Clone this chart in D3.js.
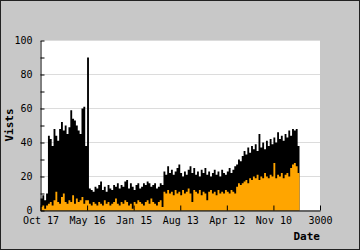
<!DOCTYPE html>
<html>
<head>
<meta charset="utf-8">
<script src="https://d3js.org/d3.v7.min.js"></script>
<style>
  body { margin: 0; background: #c8c8c8; }
  svg { display: block; }
  text { font-family: "DejaVu Sans Mono", monospace; }
</style>
</head>
<body>
<div class="chart"></div>
<script>
// samples every 20 days from day 0
var startDay = 0
var stepDays = 20

var visits = [
  7, 9, 6, 10,
  44, 42, 38, 48, 44, 41, 48, 52, 47, 50, 45, 49, 59, 54, 53, 50, 47, 45, 60, 61, 38,
  90,
  13, 12, 11, 14, 13, 15, 17, 12, 14, 11, 15, 13, 12, 15, 14, 16, 13, 15, 14, 17,
  18, 13, 16, 14, 12, 15, 16, 13, 14, 16, 15, 17, 16, 14, 15, 16, 13, 14, 16, 15,
  23, 21, 26, 22, 24, 21, 23, 25, 27, 22, 20, 23, 21, 24, 26, 22, 25, 21, 23, 20,
  24, 22, 25, 21, 23, 20, 22, 24, 21, 23, 20, 24, 22, 21, 23, 25, 22, 24, 26,
  27, 30, 29, 32, 35, 33, 37, 34, 38, 36, 39, 35, 45, 37, 40, 36, 41, 38, 42, 39,
  43, 40, 46, 42, 44, 41, 45, 43, 47, 44, 48, 47, 48, 38
]

var visitsOrange = [
  2, 3, 1, 3,
  4, 5, 3, 6, 11, 5, 4, 8, 10, 5, 4, 6, 5, 9, 4, 7, 5, 6, 8, 4, 6,
  6,
  4, 3, 5, 4, 3, 5, 4, 3, 6, 4, 5, 3, 4, 5, 7, 4, 3, 5, 4, 6,
  5, 3, 4, 1, 5, 4, 6, 5, 4, 3, 5, 6, 4, 7, 5, 4, 3, 5, 6, 2,
  11, 10, 12, 10, 11, 9, 12, 10, 11, 9, 12, 10, 11, 13, 10, 5, 12, 11, 10, 12,
  9, 11, 10, 6, 11, 12, 10, 11, 9, 12, 10, 11, 10, 12, 11, 10, 12, 11, 10,
  14, 16, 15, 16, 17, 18, 16, 19, 18, 20, 19, 21, 18, 20, 19, 22, 20, 19, 21, 20,
  28, 19, 21, 20, 22, 19, 21, 22, 20, 25, 27, 28, 26, 22
]

var xTicks = [0, 500, 1000, 1500, 2000, 2500, 3000]
var xTickLabels = ["Oct 17", "May 16", "Jan 15", "Aug 13", "Apr 12", "Nov 10", "3000"]
var yTicks = [0, 10, 20, 30, 40, 50, 60, 70, 80, 90, 100]
var yGrid = [20, 40, 60, 80, 100]

var width = 360
var height = 250
var plotLeft = 40, plotRight = 320, plotTop = 40, plotBottom = 210

var svg = d3.select(".chart").append("svg")
  .attr("width", width)
  .attr("height", height)

// frame
svg.append("rect")
  .attr("x", 0.5).attr("y", 0.5)
  .attr("width", width - 1).attr("height", height - 1)
  .attr("fill", "#c8c8c8")
  .attr("stroke", "#222")

svg.append("rect")
  .attr("x", plotLeft).attr("y", plotTop)
  .attr("width", plotRight - plotLeft).attr("height", plotBottom - plotTop)
  .attr("fill", "white")

var x = d3.scaleLinear().domain([0, 3000]).range([plotLeft + 0.5, plotRight])
var y = d3.scaleLinear().domain([0, 100]).range([plotBottom + 0.5, plotTop + 0.5])

function toPoints(arr) {
  var pts = arr.map(function(v, i) { return { d: startDay + i * stepDays, v: v } })
  // close the last step
  pts.push({ d: startDay + arr.length * stepDays, v: arr[arr.length - 1] })
  return pts
}

// gridlines
svg.append("g")
  .selectAll("line")
  .data(yGrid)
  .enter().append("line")
  .attr("x1", plotLeft).attr("x2", plotRight)
  .attr("y1", function(d) { return y(d) })
  .attr("y2", function(d) { return y(d) })
  .attr("stroke", "#dcdcdc")

var area = d3.area()
  .curve(d3.curveStepAfter)
  .x(function(d) { return x(d.d) })
  .y0(y(0))
  .y1(function(d) { return y(d.v) })

svg.append("path")
  .datum(toPoints(visits))
  .attr("fill", "black")
  .attr("d", area)

svg.append("path")
  .datum(toPoints(visitsOrange))
  .attr("fill", "#ffa500")
  .attr("d", area)

// axes, ticks point into the plot
var xAxis = d3.axisBottom(x)
  .tickValues(xTicks)
  .tickFormat(function(d, i) { return xTickLabels[i] })
  .tickSizeInner(-5)
  .tickSizeOuter(0)
  .tickPadding(6)

var yAxis = d3.axisLeft(y)
  .tickValues(yTicks)
  .tickFormat(function(d) { return d % 20 == 0 ? d : "" })
  .tickSizeInner(-4)
  .tickSizeOuter(0)
  .tickPadding(8)

svg.append("g")
  .attr("transform", "translate(0," + (plotBottom + 0.5) + ")")
  .call(xAxis)

svg.append("g")
  .attr("transform", "translate(" + (plotLeft + 0.5) + ",0)")
  .call(yAxis)

svg.selectAll(".domain").attr("stroke", "black")
svg.selectAll(".tick line").attr("stroke", "black")
svg.selectAll(".tick text")
  .attr("fill", "black")
  .style("font-family", "DejaVu Sans Mono")
  .style("font-size", "10px")

svg.append("text")
  .attr("x", plotRight)
  .attr("y", 240)
  .attr("text-anchor", "end")
  .style("font-size", "11px")
  .style("font-weight", "bold")
  .text("Date")

svg.append("text")
  .attr("transform", "translate(13," + ((plotTop + plotBottom) / 2) + ") rotate(-90)")
  .attr("text-anchor", "middle")
  .style("font-size", "11px")
  .style("font-weight", "bold")
  .text("Vists")
</script>
</body>
</html>
